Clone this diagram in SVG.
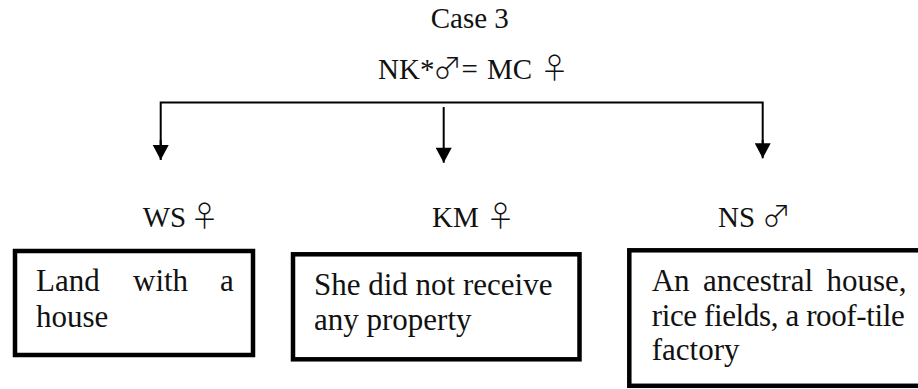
<svg xmlns="http://www.w3.org/2000/svg" width="918" height="389" viewBox="0 0 918 389">
  <style>
    .t { font-family: "Liberation Serif", "Times New Roman", serif; font-size: 29px; fill: #111; }
    .b { font-family: "Liberation Serif", "Times New Roman", serif; font-size: 31px; fill: #111; }
    .sym { font-family: "Noto Sans CJK JP", "DejaVu Sans", sans-serif; font-weight: 300; font-size: 29px; }
    .box { fill: #fff; stroke: #000; stroke-width: 4.5; }
    .wire { fill: none; stroke: #000; stroke-width: 2; }
  </style>
  <defs>
    <marker id="arrow" markerUnits="userSpaceOnUse" markerWidth="16" markerHeight="16" viewBox="0 0 15 16" refX="15" refY="8" orient="auto">
      <path d="M0,0 L15,8 L0,16 Z" fill="#000"/>
    </marker>
  </defs>
  <rect width="918" height="389" fill="#fff"/>

  <!-- parents -->
  <g id="parents">
    <text class="t" x="430.7" y="28.3">Case 3</text>
    <text class="t" y="79">
      <tspan x="378">NK*</tspan><tspan class="sym" x="433" font-size="26">♂</tspan><tspan x="461.5">=</tspan><tspan x="487">MC</tspan><tspan class="sym" x="540">♀</tspan>
    </text>
  </g>

  <!-- connectors -->
  <g id="connectors">
    <path class="wire" d="M160.7,146 V102.5 H762.7 V144"/>
    <line class="wire" x1="160.7" y1="140" x2="160.7" y2="160" marker-end="url(#arrow)"/>
    <line class="wire" x1="443.7" y1="107" x2="443.7" y2="162.7" marker-end="url(#arrow)"/>
    <line class="wire" x1="762.7" y1="140" x2="762.7" y2="158.3" marker-end="url(#arrow)"/>
  </g>

  <!-- child: WS -->
  <g id="child-ws">
    <text class="t" y="226.7"><tspan x="142.7">WS</tspan><tspan class="sym" x="190">♀</tspan></text>
    <rect class="box" x="15" y="251" width="238" height="104"/>
    <text class="b" y="290.7"><tspan x="36">Land</tspan><tspan x="133">with</tspan><tspan x="220">a</tspan></text>
    <text class="b" x="36" y="327">house</text>
  </g>

  <!-- child: KM -->
  <g id="child-km">
    <text class="t" y="226.7"><tspan x="432">KM</tspan><tspan class="sym" x="486">♀</tspan></text>
    <rect class="box" x="293" y="254.3" width="286.5" height="105"/>
    <text class="b" x="314" y="295">She did not receive</text>
    <text class="b" x="314" y="330">any property</text>
  </g>

  <!-- child: NS -->
  <g id="child-ns">
    <text class="t" y="226.7"><tspan x="718">NS</tspan><tspan class="sym" x="762">♂</tspan></text>
    <rect class="box" x="629.3" y="250.3" width="300" height="135.5"/>
    <text class="b" y="290.7"><tspan x="651.7">An</tspan><tspan x="703">ancestral</tspan><tspan x="826.5">house,</tspan></text>
    <text class="b" x="651.7" y="326" textLength="253" lengthAdjust="spacing">rice fields, a roof-tile</text>
    <text class="b" x="651.7" y="360">factory</text>
  </g>
</svg>
